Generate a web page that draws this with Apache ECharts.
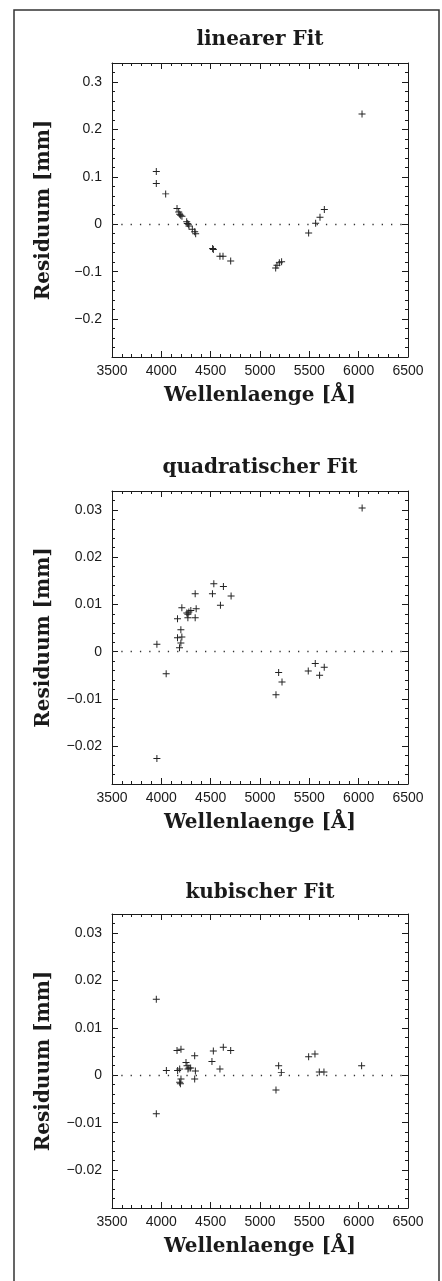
<!DOCTYPE html>
<html lang="de">
<head>
    <meta charset="UTF-8">
    <title>Residuen</title>
    <script src="https://cdn.jsdelivr.net/npm/echarts@6/dist/echarts.min.js"></script>
    <style>
        * {
            margin: 0;
            padding: 0;
        }
        body, html {
            background: #fff;
        }
    </style>
</head>
<body>
<div id="main" style="width: 442px;height:1281px;"></div>
<script type="text/javascript">
    // Wellenlaengen und Residuen
    var lambdaLin = [3949, 3949, 4044, 4159, 4176, 4186, 4196, 4209, 4257, 4263, 4274, 4280, 4314, 4338, 4348,
        4520, 4527, 4594, 4625, 4703, 5159, 5172, 5196, 5219, 5493, 5564, 5608, 5652, 6034];
    var residLin = [0.111, 0.086, 0.064, 0.033, 0.026, 0.021, 0.019, 0.017, 0.005, 0.0014, 0, -0.0035, -0.0106, -0.016, -0.020,
        -0.0514, -0.0535, -0.0676, -0.0676, -0.0775, -0.0923, -0.0866, -0.081, -0.0789, -0.0183, 0.0021, 0.0148, 0.031, 0.2324];

    var lambdaQuad = [3955, 3955, 4049, 4164, 4164, 4184, 4198, 4198, 4208, 4208, 4258, 4269, 4269, 4279, 4299, 4343, 4343, 4353,
        4518, 4532, 4599, 4629, 4707, 5162, 5189, 5223, 5489, 5560, 5604, 5651, 6035];
    var residQuad = [0.00155, -0.0226, -0.00465, 0.00697, 0.00296, 0.00085, 0.00465, 0.00183, 0.0031, 0.0093, 0.0082, 0.0079, 0.0072, 0.0084, 0.0087, 0.01225, 0.0072, 0.0091,
        0.01225, 0.01437, 0.0098, 0.0138, 0.0118, -0.0091, -0.0044, -0.0064, -0.0041, -0.0025, -0.005, -0.0033, 0.0304];

    var lambdaCub = [3949, 3949, 4051, 4159, 4199, 4165, 4186, 4186, 4193, 4199, 4250, 4260, 4270, 4280, 4297, 4338, 4345, 4338,
        4513, 4527, 4594, 4628, 4703, 5162, 5189, 5216, 5493, 5557, 5601, 5648, 6030];
    var residCub = [0.016, -0.0081, 0.001, 0.0052, 0.0055, 0.001, 0.0013, -0.0015, -0.0018, -0.0008, 0.0027, 0.002, 0.0013, 0.0015, 0.0015, 0.0041, 0.0009, -0.0008,
        0.0029, 0.0051, 0.0013, 0.0059, 0.0052, -0.0031, 0.002, 0.0006, 0.0039, 0.0045, 0.0007, 0.0007, 0.002];

    var titles = ['linearer Fit', 'quadratischer Fit', 'kubischer Fit'];
    var xTicks = [3500, 4000, 4500, 5000, 5500, 6000, 6500];
    var yTicksLin = [-0.2, -0.1, 0, 0.1, 0.2, 0.3];
    var yTicksSmall = [-0.02, -0.01, 0, 0.01, 0.02, 0.03];

    var panels = [
        {x: lambdaLin, y: residLin, ticks: yTicksLin, min: -0.28, max: 0.34, minor: 0.02, top: 63, h: 294},
        {x: lambdaQuad, y: residQuad, ticks: yTicksSmall, min: -0.028, max: 0.034, minor: 0.002, top: 491, h: 293},
        {x: lambdaCub, y: residCub, ticks: yTicksSmall, min: -0.028, max: 0.034, minor: 0.002, top: 914, h: 294}
    ];
    var titleY = [40, 468, 893];

    var ink = '#1a1a1a';
    var serif = '"DejaVu Serif", serif';
    var sans = '"Liberation Sans", Arial, sans-serif';
    var plus = 'path://M4.3,0H5.7V10H4.3Z M0,4.3H10V5.7H0Z';

    function fmt(v) {
        return String(+(+v).toFixed(4)).replace('-', '\u2212');
    }

    var grids = [], xAxes = [], yAxes = [], series = [], graphics = [];

    // aeusserer Rahmen
    graphics.push({
        type: 'rect', z: -10,
        shape: {x: 14, y: 10, width: 425, height: 1300},
        style: {fill: 'none', stroke: '#333', lineWidth: 1.5}
    });

    panels.forEach(function (p, g) {
        grids.push({left: 112, top: p.top, width: 296, height: p.h});

        graphics.push({
            type: 'text', x: 260, y: titleY[g],
            style: {text: titles[g], font: 'bold 20px ' + serif, fill: ink, align: 'center', verticalAlign: 'middle'}
        });

        // x unten (mit Beschriftung) und oben
        ['bottom', 'top'].forEach(function (pos) {
            xAxes.push({
                gridIndex: g, type: 'value', position: pos,
                min: xTicks[0], max: xTicks[xTicks.length - 1], interval: 500,
                axisLine: {show: true, onZero: false, lineStyle: {color: ink, width: 1}},
                axisTick: {show: true, inside: true, length: 6, lineStyle: {color: ink}},
                minorTick: {show: true, splitNumber: 5, length: 3, lineStyle: {color: ink}},
                splitLine: {show: false},
                axisLabel: {
                    show: pos === 'bottom', margin: 7, color: ink,
                    fontFamily: sans, fontSize: 14,
                    formatter: function (v) { return String(v); }
                },
                name: pos === 'bottom' ? 'Wellenlaenge [Å]' : '',
                nameLocation: 'middle', nameGap: 29,
                nameTextStyle: {fontFamily: serif, fontWeight: 'bold', fontSize: 20, color: ink}
            });
        });

        // y links/rechts: Haupt-Ticks + Neben-Ticks
        ['left', 'right'].forEach(function (pos) {
            yAxes.push({
                gridIndex: g, type: 'value', position: pos,
                min: p.min, max: p.max,
                axisLine: {show: true, onZero: false, lineStyle: {color: ink, width: 1}},
                axisTick: {show: true, inside: true, length: 6, customValues: p.ticks, lineStyle: {color: ink}},
                splitLine: {show: false},
                axisLabel: {
                    show: pos === 'left', customValues: p.ticks, margin: 10, color: ink,
                    fontFamily: sans, fontSize: 14,
                    formatter: fmt
                },
                name: pos === 'left' ? 'Residuum [mm]' : '',
                nameLocation: 'middle', nameGap: 58, nameRotate: 90,
                nameTextStyle: {fontFamily: serif, fontWeight: 'bold', fontSize: 20, color: ink}
            });
            yAxes.push({
                gridIndex: g, type: 'value', position: pos,
                min: p.min, max: p.max, interval: p.minor,
                axisLine: {show: false, onZero: false},
                axisTick: {show: true, inside: true, length: 3, lineStyle: {color: ink}},
                splitLine: {show: false},
                axisLabel: {show: false}
            });
        });

        var pts = p.x.map(function (x, i) { return [x, p.y[i]]; });
        series.push({
            type: 'scatter',
            xAxisIndex: g * 2,
            yAxisIndex: g * 4,
            symbol: plus,
            symbolSize: 7,
            itemStyle: {color: '#222', opacity: 1},
            data: pts,
            markLine: {
                silent: true,
                symbol: 'none',
                label: {show: false},
                lineStyle: {color: '#333', width: 1.3, type: [1.3, 8]},
                data: [{yAxis: 0}]
            }
        });
    });

    var myChart = echarts.init(document.getElementById('main'));
    myChart.setOption({
        animation: false,
        backgroundColor: '#fff',
        grid: grids,
        xAxis: xAxes,
        yAxis: yAxes,
        series: series,
        graphic: graphics
    });
</script>
</body>
</html>
